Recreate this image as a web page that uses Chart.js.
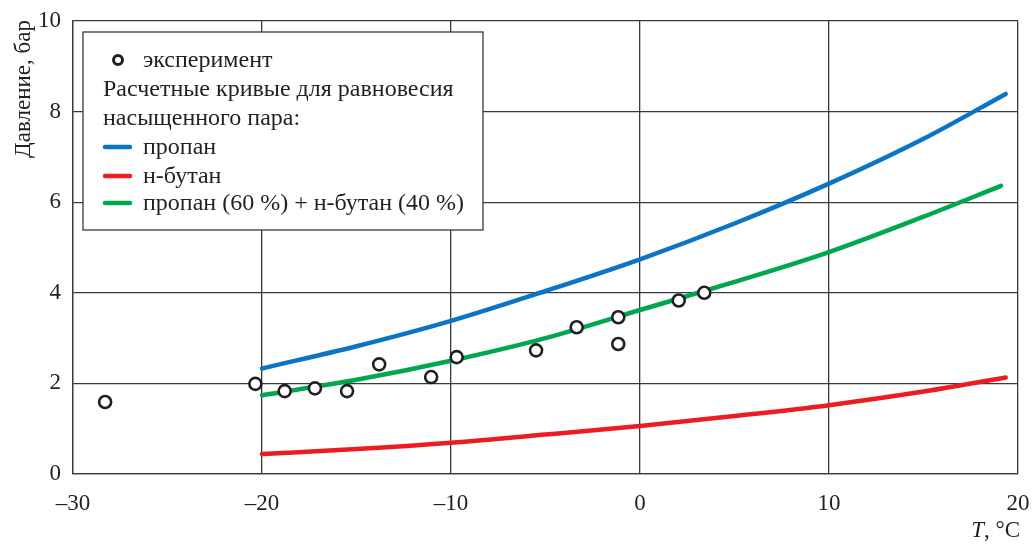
<!DOCTYPE html>
<html>
<head>
<meta charset="utf-8">
<script src="https://cdn.jsdelivr.net/npm/chart.js@4.4.1/dist/chart.umd.min.js"></script>
<style>
  body { margin: 0; background: #fff; }
  #wrap { width: 1033px; height: 545px; }
</style>
</head>
<body>
<div id="wrap"><canvas id="chart"></canvas></div>
<script>
// experiment points (T, °C ; pressure, bar)
var expT = [-28.3, -20.35, -18.8, -17.2, -15.5, -13.8, -11.05, -9.7, -5.5, -3.35, -1.15, -1.15, 2.05, 3.4];
var expP = [1.59, 1.99, 1.83, 1.89, 1.83, 2.42, 2.14, 2.58, 2.73, 3.24, 3.46, 2.87, 3.83, 4.0];

// calculated curves
var curveT = [-20, -15, -10, -5, 0, 5, 10, 15, 19.35];
var propane = [2.33, 2.82, 3.38, 4.04, 4.74, 5.53, 6.41, 7.40, 8.39];
var butane = [0.44, 0.55, 0.69, 0.87, 1.06, 1.28, 1.52, 1.82, 2.13];
var mixT = [-20, -15, -10, -5, 0, 5, 10, 15, 19.1];
var mix = [1.74, 2.08, 2.5, 3.0, 3.62, 4.24, 4.90, 5.68, 6.36];

var xTicks = [-30, -20, -10, 0, 10, 20];
var yTicks = [0, 2, 4, 6, 8, 10];

var serif = "'Liberation Serif', 'DejaVu Serif', serif";
var fs = 23;

function pairs(xs, ys) {
    return xs.map(function (x, i) { return { x: x, y: ys[i] }; });
}

function lineSet(label, xs, ys, color) {
    return {
        label: label,
        type: 'line',
        data: pairs(xs, ys),
        borderColor: color,
        backgroundColor: color,
        borderWidth: 4.5,
        pointRadius: 0,
        cubicInterpolationMode: 'monotone',
        borderCapStyle: 'round',
        fill: false
    };
}

// legend + axis titles drawn by hand
const extras = {
    id: 'extras',
    afterDraw(chart) {
        var c = chart.ctx;
        c.save();
        c.font = fs + 'px ' + serif;
        c.fillStyle = '#231f20';

        // y title
        c.save();
        c.translate(24, 89);
        c.rotate(-Math.PI / 2);
        c.textAlign = 'center';
        c.textBaseline = 'middle';
        c.fillText('Давление, бар', 0, 0);
        c.restore();

        // x title
        c.textBaseline = 'middle';
        c.textAlign = 'right';
        var rest = ', °C';
        c.fillText(rest, 1020, 531);
        var w = c.measureText(rest).width;
        c.font = 'italic ' + fs + 'px ' + serif;
        c.fillText('T', 1020 - w, 531);

        // legend box
        c.fillStyle = '#fff';
        c.fillRect(83, 32, 400, 198);
        c.strokeStyle = '#3a3a3a';
        c.lineWidth = 1.3;
        c.strokeRect(83, 32, 400, 198);

        c.font = '24px ' + serif;
        c.fillStyle = '#231f20';
        c.textAlign = 'left';
        c.beginPath();
        c.arc(118, 60, 4.5, 0, Math.PI * 2);
        c.lineWidth = 3;
        c.strokeStyle = '#231f20';
        c.stroke();
        c.fillText('эксперимент', 143, 61);
        c.fillText('Расчетные кривые для равновесия', 103, 90);
        c.fillText('насыщенного пара:', 103, 119);

        var ds = chart.data.datasets;
        var rows = [147, 176, 203];
        for (var i = 0; i < 3; i++) {
            var d = ds[i + 1];
            c.beginPath();
            c.moveTo(105, rows[i]);
            c.lineTo(130, rows[i]);
            c.strokeStyle = d.borderColor;
            c.lineWidth = 4.5;
            c.lineCap = 'round';
            c.stroke();
            c.fillText(d.label, 143, rows[i] + 1);
        }
        c.restore();
    }
};

new Chart(document.getElementById('chart'), {
    type: 'scatter',
    data: {
        datasets: [
            {
                label: 'эксперимент',
                data: pairs(expT, expP),
                pointRadius: 6,
                pointBorderWidth: 2.6,
                pointBorderColor: '#231f20',
                pointBackgroundColor: '#fff',
                order: 0
            },
            lineSet('пропан', curveT, propane, '#0b75c4'),
            lineSet('н-бутан', curveT, butane, '#ed1c24'),
            lineSet('пропан (60 %) + н-бутан (40 %)', mixT, mix, '#00a650')
        ]
    },
    options: {
        responsive: true,
        maintainAspectRatio: false,
        animation: false,
        layout: { padding: { left: 0, top: 21, right: 15, bottom: 0 } },
        plugins: {
            legend: { display: false },
            tooltip: { enabled: false }
        },
        scales: {
            x: {
                type: 'linear',
                min: xTicks[0],
                max: xTicks[xTicks.length - 1],
                afterBuildTicks: function (s) { s.ticks = xTicks.map(function (v) { return { value: v }; }); },
                afterFit: function (s) { s.height = 71; s.paddingLeft = 0; s.paddingRight = 0; },
                grid: { color: '#3a3a3a', lineWidth: 1.3, drawTicks: false },
                border: { color: '#3a3a3a', width: 1.3 },
                ticks: {
                    padding: 16,
                    color: '#231f20',
                    font: { family: serif, size: fs },
                    maxRotation: 0,
                    callback: function (v) { return String(v).replace('-', '–'); }
                }
            },
            y: {
                min: yTicks[0],
                max: yTicks[yTicks.length - 1],
                afterBuildTicks: function (s) { s.ticks = yTicks.map(function (v) { return { value: v }; }); },
                afterFit: function (s) { s.width = 73; s.paddingTop = 0; s.paddingBottom = 0; },
                grid: { color: '#3a3a3a', lineWidth: 1.3, drawTicks: false },
                border: { color: '#3a3a3a', width: 1.3 },
                ticks: {
                    padding: 12,
                    color: '#231f20',
                    font: { family: serif, size: fs }
                }
            }
        }
    },
    plugins: [extras]
});
</script>
</body>
</html>
